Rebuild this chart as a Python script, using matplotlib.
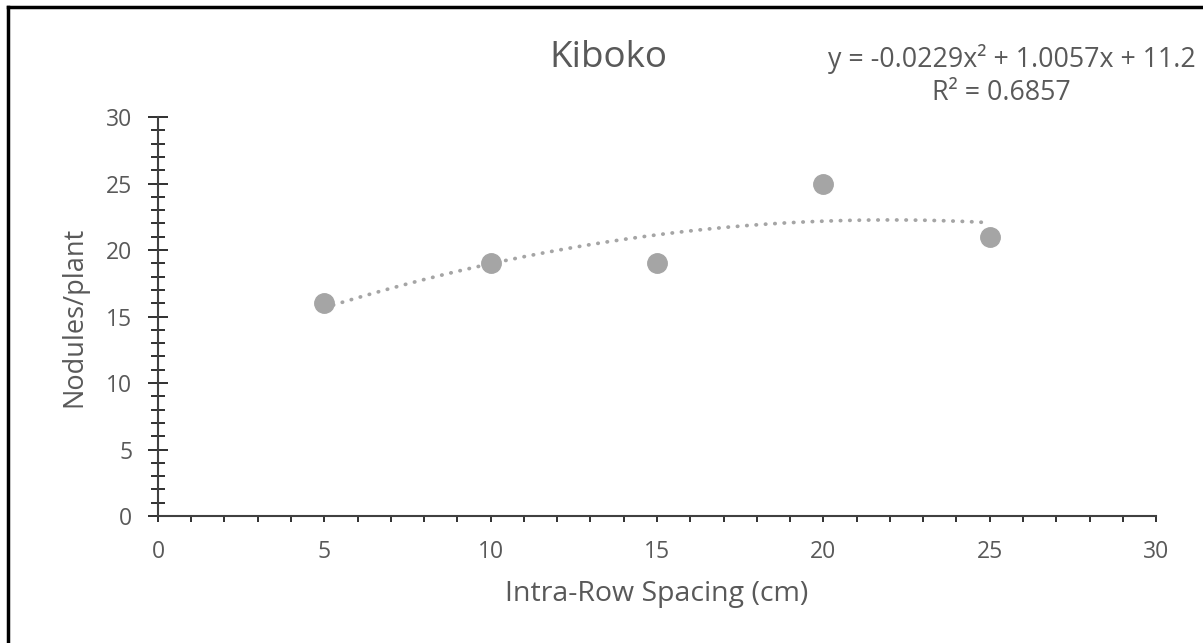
import numpy as np
import matplotlib.pyplot as plt
from matplotlib.lines import Line2D
from matplotlib.ticker import MultipleLocator

# dane z wykresu
spacing = [5, 10, 15, 20, 25]
nodules = [16, 19, 19, 25, 21]
title = 'Kiboko'
xlabel = 'Intra-Row Spacing (cm)'
ylabel = 'Nodules/plant'

plt.rcParams['font.family'] = ['Open Sans', 'DejaVu Sans']

# trend wielomianowy 2 stopnia (jak w Excelu)
coef = np.polyfit(spacing, nodules, 2)
fit = np.poly1d(coef)
pred = fit(np.array(spacing))
r2 = 1 - np.sum((np.array(nodules) - pred)**2) / np.sum((np.array(nodules) - np.mean(nodules))**2)
xs = np.linspace(min(spacing), max(spacing), 200)

fig = plt.figure(figsize=(12.03, 6.43), dpi=100)
ax = fig.add_axes([0.1313, 0.1975, 0.8297, 0.6205])

ax.plot(xs, fit(xs), color='#A5A5A5', lw=2.7, linestyle=(0, (0.1, 2.4)),
        dash_capstyle='round', zorder=2)
ax.plot(spacing, nodules, 'o', color='#A5A5A5', ms=14, zorder=3)

ax.set_xlim(0, 30)
ax.set_ylim(0, 30)
ax.xaxis.set_major_locator(MultipleLocator(5))
ax.xaxis.set_minor_locator(MultipleLocator(1))
ax.yaxis.set_major_locator(MultipleLocator(5))
ax.yaxis.set_minor_locator(MultipleLocator(1))

for s in ['top', 'right']:
    ax.spines[s].set_visible(False)
for s in ['left', 'bottom']:
    ax.spines[s].set_color('#404040')
    ax.spines[s].set_linewidth(1.5)

ax.tick_params(axis='x', which='both', direction='out', length=4, width=1.3,
               color='#202020', labelsize=16.5, labelcolor='#595959', pad=13)
ax.tick_params(axis='y', which='major', direction='inout', length=15, width=1.3,
               color='#202020', labelsize=16.5, labelcolor='#595959', pad=11)
ax.tick_params(axis='y', which='minor', direction='inout', length=10, width=1.3,
               color='#202020')

ax.set_xlabel(xlabel, fontsize=20.5, color='#595959', labelpad=12)
ax.set_ylabel(ylabel, fontsize=19.5, color='#595959', labelpad=13)

fig.text(0.5055, 0.91, title, fontsize=26.5, color='#595959', ha='center', va='center')

eq = 'y = %.4fx² + %.4fx + %.1f' % (coef[0], coef[1], coef[2])
fig.text(0.994, 0.908, eq, fontsize=19.3, color='#595959', ha='right', va='center')
fig.text(0.832, 0.856, 'R² = %.4f' % r2, fontsize=19.3, color='#595959',
         ha='center', va='center')

# ramka (tylko gora i lewa strona widoczne)
fig.add_artist(Line2D([0.0066, 1.0], [0.9891, 0.9891], color='black', lw=2.5,
                      transform=fig.transFigure))
fig.add_artist(Line2D([0.0066, 0.0066], [0.0, 0.9891], color='black', lw=2.5,
                      transform=fig.transFigure))

fig.savefig('out.png', dpi=100)
